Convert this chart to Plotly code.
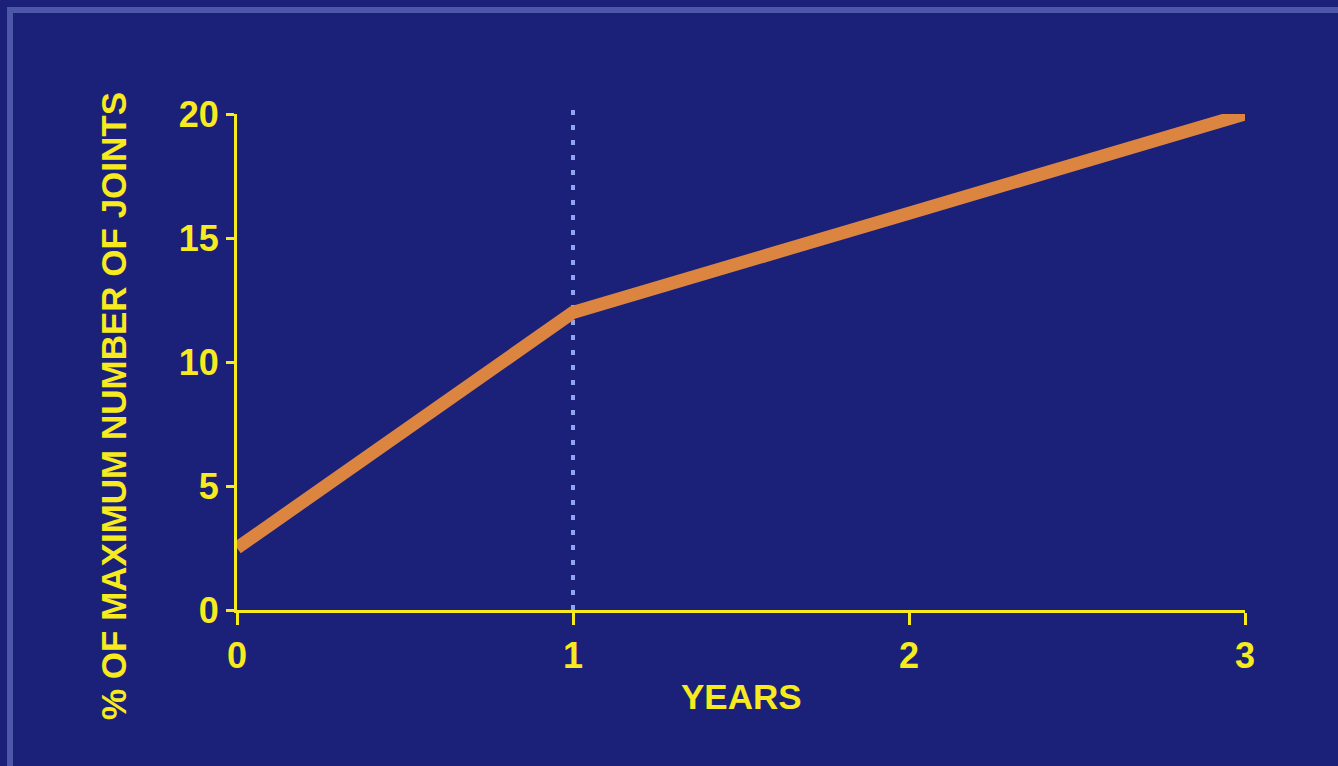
import plotly.graph_objects as go

years = [0, 1, 2, 3]
pct_joints = [2.5, 12, 16, 20]
x_ticks = [0, 1, 2, 3]
y_ticks = [0, 5, 10, 15, 20]
marker_year = 1

BG = "#1b2079"
YEL = "#f7ea1e"
ORANGE = "#dc8540"
TITLE_FONT = "Liberation Sans, Arial"

fig = go.Figure()
fig.add_trace(go.Scatter(
    x=years, y=pct_joints, mode="lines",
    line=dict(color=ORANGE, width=13),
    cliponaxis=False, hoverinfo="skip", showlegend=False,
))

fig.add_shape(type="line", xref="x", yref="paper",
              x0=marker_year, x1=marker_year, y0=0, y1=1.012,
              line=dict(color="#90a4f0", width=4, dash="5px,10px"), layer="below")

# frame band (top and left)
fig.add_shape(type="rect", xref="paper", yref="paper",
              x0=-0.2252, x1=1.1022, y0=-0.3347, y1=1.2097,
              line=dict(color="#4d57a8", width=6), layer="below")

fig.add_annotation(text="YEARS", xref="paper", yref="paper", x=0.5, y=-0.1734,
                   xanchor="center", yanchor="middle", showarrow=False,
                   font=dict(family=TITLE_FONT, size=35, color=YEL, weight="bold"))
fig.add_annotation(text="% OF MAXIMUM NUMBER OF JOINTS", xref="paper", yref="paper",
                   x=(114 - 237) / 1008, y=(610 - 406) / 496, textangle=-90,
                   xanchor="center", yanchor="middle", showarrow=False,
                   font=dict(family=TITLE_FONT, size=35, color=YEL, weight="bold"))

tickfont = dict(family="Liberation Sans, Arial", size=36, color=YEL, weight="bold")
fig.update_xaxes(range=[0, 3], tickvals=x_ticks, ticktext=[str(v) for v in x_ticks],
                 showline=True, linecolor=YEL, linewidth=3, ticks="outside", ticklen=12,
                 tickwidth=3, tickcolor=YEL, tickfont=tickfont, showgrid=False, zeroline=False)
fig.update_yaxes(range=[0, 20], tickvals=y_ticks, ticktext=[str(v) for v in y_ticks],
                 showline=True, linecolor=YEL, linewidth=3, ticks="outside", ticklen=8,
                 tickwidth=3, tickcolor=YEL, tickfont=tickfont, showgrid=False, zeroline=False)

fig.update_layout(width=1338, height=766, paper_bgcolor=BG, plot_bgcolor=BG,
                  margin=dict(l=237, r=93, t=114, b=156), showlegend=False)

fig.write_html("out.html")
